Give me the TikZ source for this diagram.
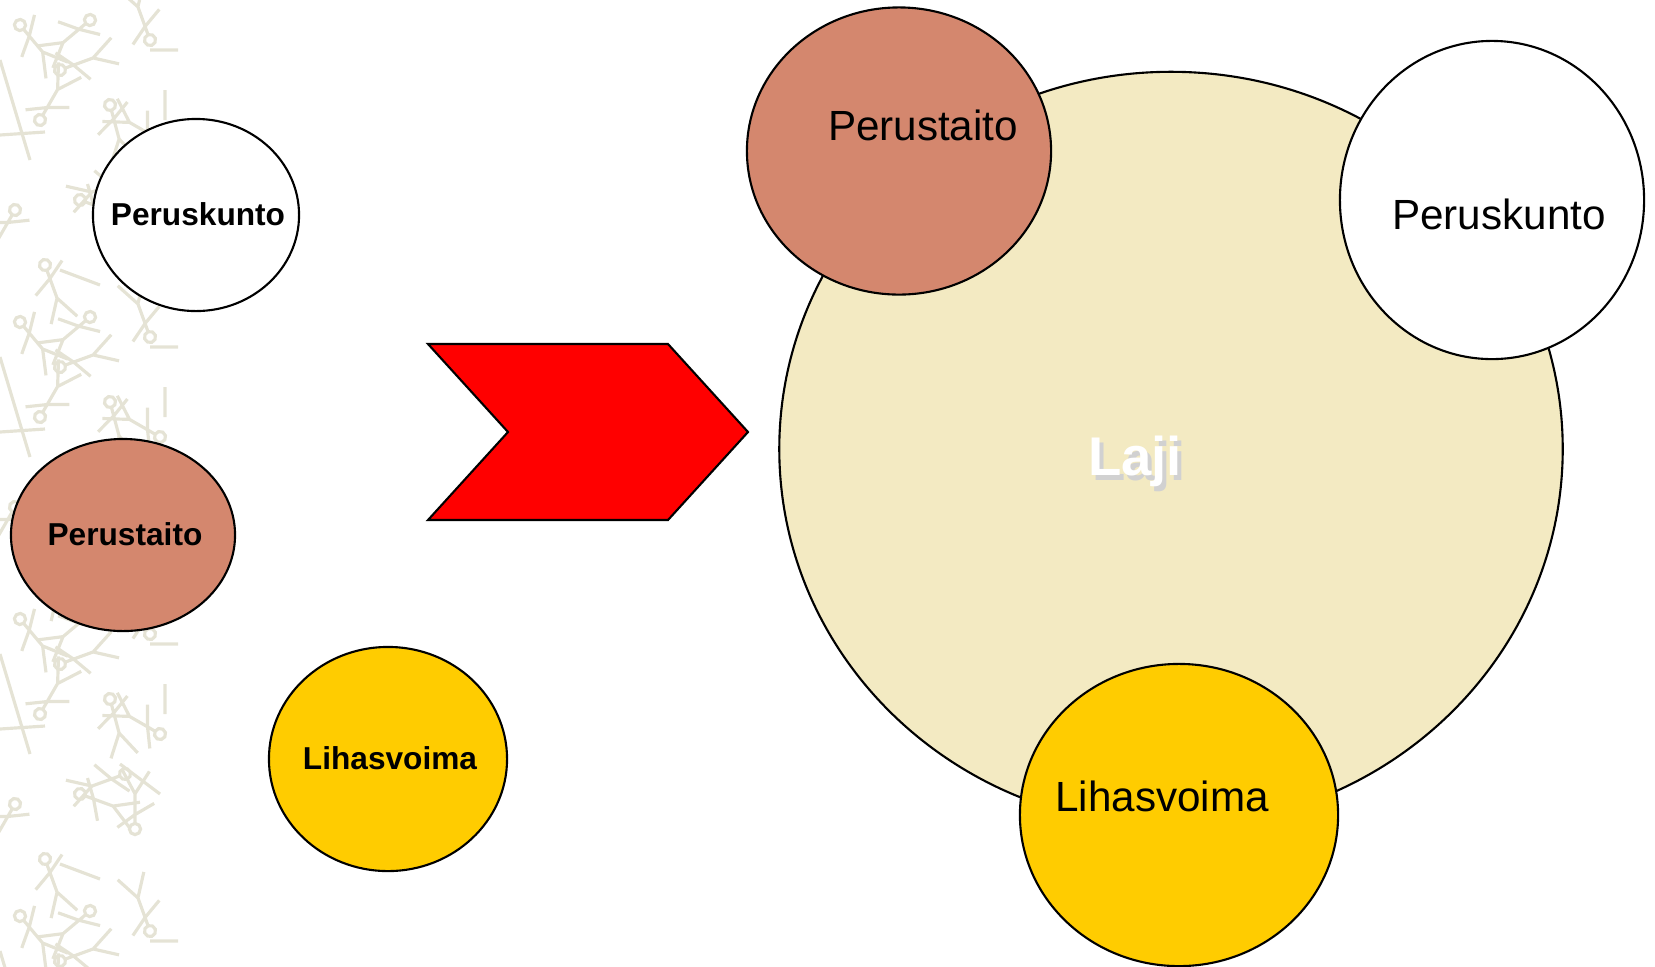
\documentclass[tikz,border=0pt]{standalone}
\usepackage{fontspec}
\setmainfont{Liberation Sans}
\setsansfont{Liberation Sans}
\usetikzlibrary{shapes.geometric}

% one stick figure of the left strip pattern: x, y, angle
\newcommand{\stickfig}[3]{%
  \begin{scope}[shift={(#1,#2)},rotate=#3,scale=1.6]
    \draw (0,0) circle (3.5);
    \draw (0,3.5) -- (0,22) (0,9) -- (-12,16) (0,9) -- (11,1)
          (0,22) -- (-9,36) (0,22) -- (8,37);
  \end{scope}}

\begin{document}
\begin{tikzpicture}[x=0.01cm,y=-0.01cm,font=\sffamily,
  blob/.style={ellipse,draw=black,line width=0.6pt,inner sep=0pt},
  smalltxt/.style={font=\fontsize{9}{11}\selectfont\bfseries},
  bigtxt/.style={font=\fontsize{12}{14}\selectfont}]

% Canvas: 1655 x 966 px, 1 px = 0.01 cm, y grows downwards
\useasboundingbox (0,0) rectangle (1655,966);

% ── Colours ──────────────────────────────────────────────────────────────────
\definecolor{Cskill}{RGB}{212,135,110}   % Perustaito
\definecolor{Cmusc}{RGB}{255,204,0}      % Lihasvoima
\definecolor{Csport}{RGB}{243,234,194}   % Laji
\definecolor{Cstrip}{RGB}{229,227,213}   % background pattern

% ── Left strip pattern ───────────────────────────────────────────────────────
\begin{scope}
  \clip (0,0) rectangle (178,966);
  \begin{scope}[Cstrip,line width=0.9pt]
    \foreach \ty in {0,297,594,891}{
      \begin{scope}[shift={(0,\ty)}]
        \stickfig{20}{25}{40}
        \stickfig{90}{20}{-50}
        \stickfig{150}{40}{200}
        \stickfig{40}{120}{150}
        \stickfig{110}{105}{15}
        \stickfig{160}{140}{-120}
        \stickfig{15}{210}{-30}
        \stickfig{80}{200}{70}
        \stickfig{135}{235}{180}
        \stickfig{60}{70}{110}
        \stickfig{125}{180}{-70}
        \stickfig{45}{265}{20}
        \draw (0,135) -- (45,132) (0,60) -- (30,160) (120,170) -- (160,200)
              (150,50) -- (178,50) (60,270) -- (100,285) (165,90) -- (165,120);
      \end{scope}
    }
  \end{scope}
\end{scope}

% ── Left: separate components ────────────────────────────────────────────────
\node[blob,fill=white,minimum width=2.06cm,minimum height=1.92cm]
  (kunto) at (196,215) {};
\node[smalltxt] (kuntoT) at (198,214) {Peruskunto};

\node[blob,fill=Cskill,minimum width=2.24cm,minimum height=1.92cm]
  (taito) at (123,535) {};
\node[smalltxt] (taitoT) at (125,534) {Perustaito};

\node[blob,fill=Cmusc,minimum width=2.38cm,minimum height=2.24cm]
  (voima) at (388,759) {};
\node[smalltxt] (voimaT) at (390,758) {Lihasvoima};

% ── Chevron ──────────────────────────────────────────────────────────────────
\draw[fill=red,line width=0.6pt,line join=miter]
  (428,344) -- (668,344) -- (748,432) -- (668,520) -- (428,520) -- (508,432) -- cycle;

% ── Right: the sport with its components ─────────────────────────────────────
\node[blob,fill=Csport,minimum width=7.83cm,minimum height=7.54cm]
  (laji) at (1171,449) {};
\node[text=black!18,font=\fontsize{15.5}{18}\selectfont\bfseries]
  at (1139,466) {Laji};
\node[text=white,font=\fontsize{15.5}{18}\selectfont\bfseries]
  (lajiT) at (1135,461) {Laji};

\node[blob,fill=Cskill,minimum width=3.04cm,minimum height=2.87cm]
  (taitoB) at (899,151) {};
\node[bigtxt] (taitoBT) at (923,125) {Perustaito};

\node[blob,fill=white,minimum width=3.04cm,minimum height=3.18cm]
  (kuntoB) at (1492,200) {};
\node[bigtxt] (kuntoBT) at (1499,214) {Peruskunto};

\node[blob,fill=Cmusc,minimum width=3.18cm,minimum height=3.02cm]
  (voimaB) at (1179,815) {};
\node[bigtxt] (voimaBT) at (1162,796) {Lihasvoima};

\end{tikzpicture}
\end{document}
